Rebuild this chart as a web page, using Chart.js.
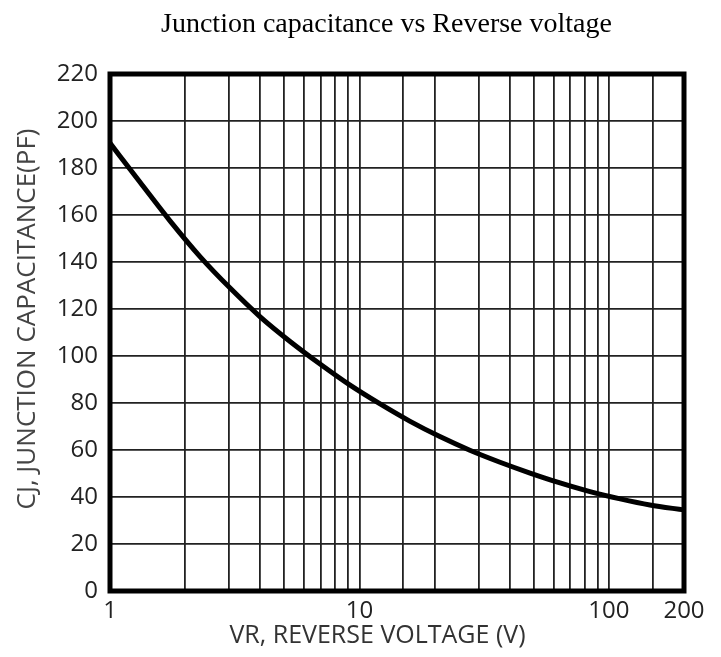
<!DOCTYPE html>
<html>
<head>
<meta charset="utf-8">
<title>Junction capacitance vs Reverse voltage</title>
<script src="https://cdn.jsdelivr.net/npm/chart.js@4/dist/chart.umd.min.js"></script>
<style>
  html, body { margin: 0; padding: 0; background: #fff; }
  #wrap { width: 721px; height: 657px; }
</style>
</head>
<body>
<div id="wrap"><canvas id="chart" width="721" height="657"></canvas></div>
<script>
// Reverse voltage (V) sampled along the curve
const voltage = [1, 1.32, 1.74, 2.3, 3.03, 3.99, 5.27, 6.95, 9.17, 12.1, 15.9, 21, 27.7, 36.6, 48.3, 63.7, 84, 111, 146, 200];
// Junction capacitance (pF)
const capacitance = [190.6, 173.9, 157.5, 142.2, 128.9, 116.8, 106.2, 96.6, 87.6, 79.6, 72.3, 65.7, 59.9, 54.8, 50.2, 46, 42.3, 39.2, 36.6, 34.5];
// Labelled ticks on the log axis
const xTickLabels = [1, 10, 100, 200];

const TICK_FONT = { family: "'Open Sans', sans-serif", size: 24 };

// Thick frame around the plot area
const frame = {
  id: 'frame',
  afterDatasetsDraw(chart) {
    const { ctx, chartArea: a } = chart;
    ctx.save();
    ctx.strokeStyle = '#000';
    ctx.lineWidth = 5;
    ctx.strokeRect(a.left, a.top, a.right - a.left, a.bottom - a.top);
    ctx.restore();
  }
};

new Chart(document.getElementById('chart'), {
  type: 'line',
  data: {
    datasets: [{
      data: voltage.map((v, i) => ({ x: v, y: capacitance[i] })),
      borderColor: '#000',
      borderWidth: 5,
      pointRadius: 0,
      cubicInterpolationMode: 'monotone',
      fill: false
    }]
  },
  options: {
    responsive: false,
    animation: false,
    layout: { padding: { left: 0, right: 37, top: 0, bottom: 0 } },
    plugins: {
      legend: { display: false },
      tooltip: { enabled: false },
      title: {
        display: true,
        // trailing spaces nudge the centred text a little to the left
        text: 'Junction capacitance vs Reverse voltage   ',
        color: '#000',
        fullSize: false,
        font: { family: "'Liberation Serif', 'Times New Roman', serif", size: 28, weight: 'normal' },
        padding: { top: 8, bottom: 32.4 }
      }
    },
    scales: {
      x: {
        type: 'logarithmic',
        min: 1,
        max: 200,
        border: { display: false },
        grid: { color: '#222', lineWidth: 1.8, drawTicks: false },
        ticks: {
          autoSkip: false,
          maxRotation: 0,
          padding: 6,
          color: '#222',
          font: TICK_FONT,
          callback: (value) => xTickLabels.includes(value) ? String(value) : ''
        },
        title: {
          display: true,
          text: 'VR, REVERSE VOLTAGE (V)      ',
          color: '#333',
          font: { family: "'Open Sans', sans-serif", size: 25 },
          padding: { top: 0, bottom: 6 }
        },
        afterFit(scale) { scale.height = 66; }
      },
      y: {
        min: 0,
        max: 220,
        border: { display: false },
        grid: { color: '#222', lineWidth: 1.8, drawTicks: false },
        ticks: {
          stepSize: 20,
          padding: 12,
          color: '#222',
          font: TICK_FONT
        },
        title: {
          display: true,
          text: '    CJ, JUNCTION CAPACITANCE(PF)',
          color: '#444',
          font: { family: "'Open Sans', sans-serif", size: 26 },
          padding: { top: 12, bottom: 0 }
        },
        afterFit(scale) { scale.width = 110; }
      }
    }
  },
  plugins: [frame]
});
</script>
</body>
</html>
